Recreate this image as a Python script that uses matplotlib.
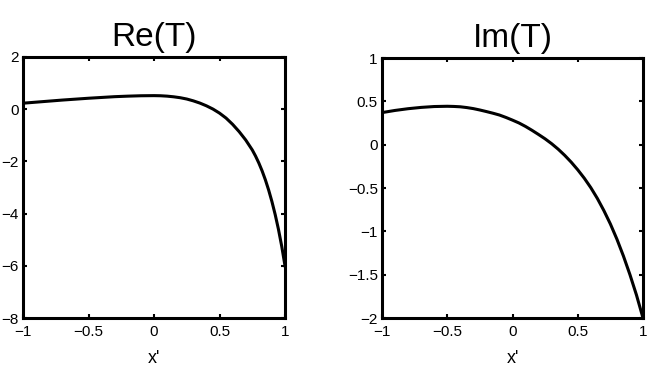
import matplotlib
matplotlib.use('Agg')
import matplotlib.pyplot as plt

plt.rcParams['font.family'] = ['Liberation Sans', 'DejaVu Sans']

# Re(T)
x_re = [-1.0, -0.9, -0.8, -0.7, -0.6, -0.5, -0.4, -0.3, -0.2, -0.1, 0.0, 0.05, 0.1,
        0.15, 0.2, 0.25, 0.3, 0.35, 0.4, 0.45, 0.5, 0.55, 0.6, 0.65, 0.7, 0.75,
        0.775, 0.8, 0.825, 0.85, 0.875, 0.9, 0.925, 0.95, 0.975, 1.0]
y_re = [0.23, 0.27, 0.31, 0.35, 0.385, 0.42, 0.45, 0.48, 0.50, 0.515, 0.52, 0.515, 0.50,
        0.475, 0.44, 0.39, 0.32, 0.235, 0.13, 0.005, -0.15, -0.34, -0.58, -0.86, -1.18, -1.56,
        -1.794, -2.059, -2.36, -2.704, -3.094, -3.536, -4.035, -4.602, -5.252, -6.0]

# Im(T)
x_im = [-1.0, -0.9, -0.8, -0.7, -0.6, -0.5, -0.45, -0.4, -0.35, -0.3, -0.25, -0.2,
        -0.15, -0.1, -0.05, 0.0, 0.05, 0.1, 0.15, 0.2, 0.25, 0.3, 0.35, 0.4, 0.45,
        0.5, 0.55, 0.6, 0.65, 0.7, 0.75, 0.8, 0.85, 0.9, 0.95, 1.0]
y_im = [0.37, 0.395, 0.415, 0.43, 0.44, 0.443, 0.441, 0.437, 0.428, 0.416, 0.40, 0.382,
        0.363, 0.342, 0.314, 0.283, 0.25, 0.21, 0.165, 0.117, 0.067, 0.011, -0.052, -0.123, -0.202,
        -0.29, -0.387, -0.496, -0.62, -0.76, -0.915, -1.09, -1.285, -1.50, -1.735, -2.0]

xticks = [-1, -0.5, 0, 0.5, 1]
yticks_re = [-8, -6, -4, -2, 0, 2]
yticks_im = [-2, -1.5, -1, -0.5, 0, 0.5, 1]

W, H = 653, 378
fig = plt.figure(figsize=(W / 100, H / 100), dpi=100)

def etiq(v):
    return ('\u2212' + f'{abs(v):g}') if v < 0 else f'{v:g}'

def panneau(rect, x, y, yticks, ylim, titre):
    ax = fig.add_axes(rect)
    ax.plot(x, y, color='black', lw=2.2, solid_joinstyle='round')
    ax.set_xlim(-1, 1)
    ax.set_ylim(*ylim)
    ax.set_xticks(xticks)
    ax.set_xticklabels([etiq(v) for v in xticks])
    ax.set_yticks(yticks)
    ax.set_yticklabels([etiq(v) for v in yticks])
    ax.tick_params(direction='in', length=3, width=1.5, top=True, right=True,
                   labelsize=11)
    ax.tick_params(axis='x', pad=5)
    ax.tick_params(axis='y', pad=3)
    for s in ax.spines.values():
        s.set_linewidth(2.2)
    ax.set_title(titre, fontsize=24, pad=8)
    ax.set_xlabel("x'", fontsize=13, labelpad=8)
    return ax

panneau([23 / W, 1 - 318 / H, 262 / W, 261 / H], x_re, y_re, yticks_re, (-8, 2), 'Re(T)')
panneau([382 / W, 1 - 318 / H, 261 / W, 260 / H], x_im, y_im, yticks_im, (-2, 1), 'Im(T)')

fig.savefig('out.png', dpi=100)
